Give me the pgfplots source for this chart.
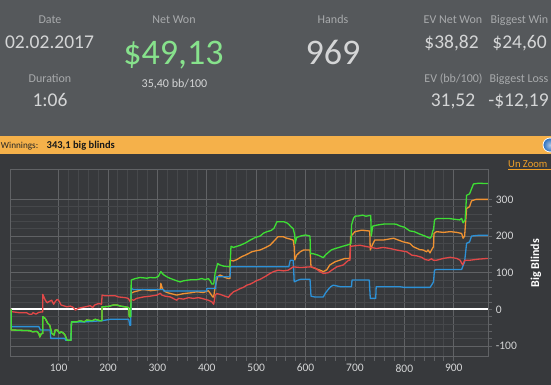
\documentclass[border=0pt]{standalone}
\usepackage{pgfplots}
\pgfplotsset{compat=1.18}
\usepackage{fontspec}
\setmainfont{Carlito}
\definecolor{toppanel}{RGB}{85,88,91}
\definecolor{darkbg}{RGB}{55,57,60}
\definecolor{orangebar}{RGB}{245,177,74}
\definecolor{lbl}{RGB}{168,170,172}
\definecolor{val}{RGB}{212,213,214}
\definecolor{netgreen}{RGB}{135,226,140}
\definecolor{sgreen}{RGB}{62,222,52}
\definecolor{sorange}{RGB}{240,146,50}
\definecolor{sblue}{RGB}{45,145,215}
\definecolor{sred}{RGB}{226,72,72}
\definecolor{gridmin}{RGB}{70,72,75}
\definecolor{gridmaj}{RGB}{96,98,101}
\definecolor{linkorange}{RGB}{240,160,40}
\definecolor{infoblue}{RGB}{40,110,190}
\newcommand{\fs}[1]{\fontsize{#1}{#1}\selectfont}
\begin{document}
\begin{tikzpicture}
\useasboundingbox (0,0) rectangle (551pt,385pt);
\clip (0,0) rectangle (551pt,385pt);
% backgrounds
\fill[darkbg] (0,0) rectangle (551pt,385pt);
\fill[toppanel] (0,249pt) rectangle (551pt,385pt);
\fill[orangebar] (0,231pt) rectangle (551pt,249pt);
% top stats
\tikzset{lab/.style={inner sep=0pt, anchor=base, text=lbl, font=\fs{12}},
         v/.style={inner sep=0pt, anchor=base, text=val, font=\fs{19.5}}}
\node[lab] at (50pt,{385pt-23.3pt}) {Date};
\node[v] at (49.5pt,{385pt-48.3pt}) {02.02.2017};
\node[lab] at (50pt,{385pt-82.3pt}) {Duration};
\node[v] at (50pt,{385pt-106.7pt}) {1:06};
\node[lab] at (174pt,{385pt-23.3pt}) {Net Won};
\node[inner sep=0pt, anchor=base, text=netgreen, font=\fs{36}] at (173.5pt,{385pt-65pt}) {\$49,13};
\node[inner sep=0pt, anchor=base, text=val, font=\fs{12}] at (174.5pt,{385pt-87.3pt}) {35,40 bb/100};
\node[lab] at (333pt,{385pt-23.3pt}) {Hands};
\node[inner sep=0pt, anchor=base, text=val, font=\fs{36}] at (333pt,{385pt-65pt}) {969};
\node[lab] at (453pt,{385pt-23.3pt}) {EV Net Won};
\node[v] at (451.5pt,{385pt-48.3pt}) {\$38,82};
\node[lab] at (453.5pt,{385pt-82.3pt}) {EV (bb/100)};
\node[v] at (453pt,{385pt-106.7pt}) {31,52};
\node[lab] at (519.5pt,{385pt-23.3pt}) {Biggest Win};
\node[v] at (519.5pt,{385pt-48.3pt}) {\$24,60};
\node[lab] at (519pt,{385pt-82.3pt}) {Biggest Loss};
\node[v] at (518.5pt,{385pt-106.7pt}) {-\$12,19};
% orange bar
\node[inner sep=0pt, anchor=base west, text=black!85, font=\fs{9.2}] at (0.8pt,{385pt-148.6pt}) {Winnings:};
\node[inner sep=0pt, anchor=base west, text=black!90, font=\fs{10.5}\bfseries] at (46.5pt,{385pt-148.8pt}) {343,1 big blinds};
\shade[inner color=infoblue!40, outer color=infoblue, draw=white, line width=0.8pt] (550pt,{385pt-145pt}) circle (7pt);
\node[inner sep=0pt, anchor=base west, text=linkorange, font=\fs{10.6}] (uz) at (508pt,{385pt-167.3pt}) {Un Zoom};
\draw[linkorange, line width=0.7pt] (508pt,{385pt-169.4pt}) -- (551pt,{385pt-169.4pt});
% Big Blinds label
\node[inner sep=0pt, rotate=90, text=white, font=\fs{12}\bfseries] at (536pt,{385pt-263pt}) {Big Blinds};
\begin{axis}[
  at={(10.7pt,28.3pt)}, anchor=south west,
  scale only axis, width=477.6pt, height=187.4pt,
  xmin=3, xmax=970, ymin=-129, ymax=382,
  xtick={100,200,...,900}, ytick={-100,0,100,200,300},
  minor x tick num=4, minor y tick num=4,
  grid=both,
  major grid style={gridmaj, line width=0.8pt},
  minor grid style={gridmin, line width=0.8pt},
  axis line style={gridmaj, line width=0.8pt},
  tick style={gridmaj, line width=0.8pt},
  tick align=outside,
  major tick length=4pt, minor tick length=4pt,
  yticklabel pos=right, ytick pos=right, xtick pos=bottom,
  ticklabel style={font=\fs{11.5}, text=val},
  /pgf/number format/assume math mode=true,
  scaled ticks=false,
  every axis plot/.append style={line width=1.3pt, line join=round},
]
\addplot[white, line width=1.8pt] coordinates {(3,0) (970,0)};
% orange (EV)
\addplot[sorange] coordinates {
(1,0) (4,0) (4,-56) (20,-57) (42,-58) (47,-61) (56,-60) (60,-66) (62,-75) (65,-66) (68,-66) (68,-20) (73,-25) (78,-38) (82,-43) (86,-65) (91,-70) (93,-56) (97,-56) (102,-65) (105,-61) (110,-65) (113,-70) (117,-84) (125,-84) (126,-34) (137,-34) (144,-31) (152,-34) (157,-29) (168,-31) (174,-27) (184,-31) (188,-31) (188,7) (201,8) (211,12) (218,12) (225,9) (234,7) (242,5) (243,-20) (246,-20)
(247,44) (253,48) (262,51) (269,54) (279,53) (286,51) (299,53) (306,55) (307,71) (310,57) (316,48) (322,45) (339,39) (353,43) (366,45) (380,48) (393,46) (403,51) (407,44) (412,34) (414,34) (417,62) (422,89) (427,94) (437,87) (444,84) (447,84) (447,134) (454,132) (461,136) (471,144) (478,148) (484,152) (491,157) (500,160) (508,162) (518,168) (528,175) (538,189) (544,198) (555,198) (562,194) (568,192) (575,189) (577,170) (578,135) (582,148) (589,157) (596,162) (609,162) (611,116) (619,112) (629,107) (636,103) (643,108) (649,121) (660,130) (680,139) (687,139) (690,140) (691,198) (700,212) (714,216) (727,214) (730,214) (731,162) (735,175) (740,189) (757,189) (778,194) (788,189) (798,184) (811,180) (818,171) (831,163) (838,162) (845,157) (848,162) (852,154) (855,162) (859,171) (860,207) (865,212) (879,210) (893,212) (906,210) (916,207) (919,194) (922,200) (926,275) (932,280) (936,296) (945,300) (969,300)};
% blue
\addplot[sblue] coordinates {
(1,0) (4,0) (4,-47) (60,-47) (63,-56) (83,-56) (84,-79) (113,-79) (114,-84) (125,-84) (126,-34) (154,-34) (187,-31) (205,-27) (242,-27) (244,-43) (246,-43) (247,57) (252,54) (312,54) (313,50) (400,50) (400,57) (418,57) (419,89) (447,89) (448,116) (566,116) (569,134) (575,134) (577,75) (585,80) (590,82) (609,82) (611,36) (618,34) (636,34) (640,44) (645,53) (651,62) (656,66) (663,64) (670,62) (693,62) (694,80) (729,80) (731,30) (742,30) (743,62) (790,62) (800,60) (852,60) (855,66) (859,75) (861,107) (865,109) (916,109) (918,116) (922,130) (926,180) (932,184) (936,200) (950,202) (969,202)};
% red
\addplot[sred] coordinates {
(1,0) (4,0) (4,-6) (20,-9) (35,-9) (40,-13) (46,-13) (48,-9) (54,-13) (60,-8) (66,-7) (68,-7) (68,41) (73,25) (77,18) (80,21) (86,25) (90,14) (93,21) (97,27) (100,25) (105,12) (110,10) (117,7) (124,9) (130,5) (134,-2) (140,3) (154,7) (164,10) (169,5) (173,12) (181,16) (187,14) (188,39) (194,37) (215,37) (221,34) (235,32) (241,30) (245,21) (246,21) (247,27) (252,25) (258,30) (265,32) (272,34) (285,36) (299,39) (306,44) (309,39) (316,36) (326,34) (339,25) (343,30) (353,28) (363,32) (373,30) (383,32) (390,30) (403,25) (410,21) (414,14) (417,39) (420,43) (427,41) (437,36) (444,33) (447,39) (454,48) (461,52) (468,57) (474,60) (481,66) (488,69) (494,73) (500,78) (508,82) (512,85) (520,91) (528,98) (535,103) (545,107) (555,105) (565,107) (575,116) (590,114) (609,116) (612,116) (620,112) (629,103) (636,98) (646,100) (653,107) (663,116) (676,121) (687,134) (690,134) (691,172) (710,175) (724,171) (733,169) (744,166) (757,169) (771,166) (784,162) (805,157) (815,148) (825,146) (835,142) (842,136) (849,134) (855,138) (859,134) (865,134) (879,139) (893,142) (906,139) (913,134) (918,121) (922,134) (932,134) (950,137) (969,139)};
% green
\addplot[sgreen] coordinates {
(1,0) (4,0) (4,-56) (20,-57) (42,-58) (47,-61) (56,-60) (60,-66) (62,-75) (65,-66) (68,-66) (68,-20) (73,-25) (78,-38) (82,-43) (86,-65) (91,-70) (93,-56) (97,-56) (102,-65) (105,-61) (110,-65) (113,-70) (117,-84) (125,-84) (126,-34) (137,-34) (144,-31) (152,-34) (157,-29) (168,-31) (174,-27) (184,-31) (188,-31) (188,7) (201,8) (211,12) (218,12) (225,9) (234,7) (242,5) (243,-20) (246,-20) (247,80) (255,84) (265,87) (279,85) (285,87) (296,86) (302,90) (307,103) (310,98) (313,94) (319,89) (325,85) (339,78) (346,75) (353,78) (363,80) (370,81) (380,81) (390,84) (397,81) (403,84) (407,78) (410,69) (414,69) (417,100) (422,125) (427,121) (434,118) (447,116) (449,172) (454,169) (461,172) (468,175) (478,181) (488,189) (498,196) (508,200) (515,208) (522,212) (530,215) (536,221) (542,239) (556,239) (562,236) (566,232) (570,226) (575,220) (578,203) (579,180) (582,196) (590,200) (600,203) (609,200) (610,152) (615,152) (625,148) (636,141) (640,148) (645,154) (652,162) (660,166) (668,169) (675,172) (683,175) (690,178) (692,180) (693,230) (697,248) (700,254) (708,255) (716,257) (722,254) (730,256) (732,256) (733,200) (736,227) (745,230) (760,233) (778,233) (784,232) (790,228) (800,224) (811,214) (820,212) (830,206) (840,201) (845,198) (852,194) (855,199) (858,216) (859,216) (861,243) (865,248) (890,248) (900,246) (912,244) (916,248) (919,236) (923,244) (926,311) (932,315) (940,342) (950,344) (969,343)};
\end{axis}
\end{tikzpicture}
\end{document}
